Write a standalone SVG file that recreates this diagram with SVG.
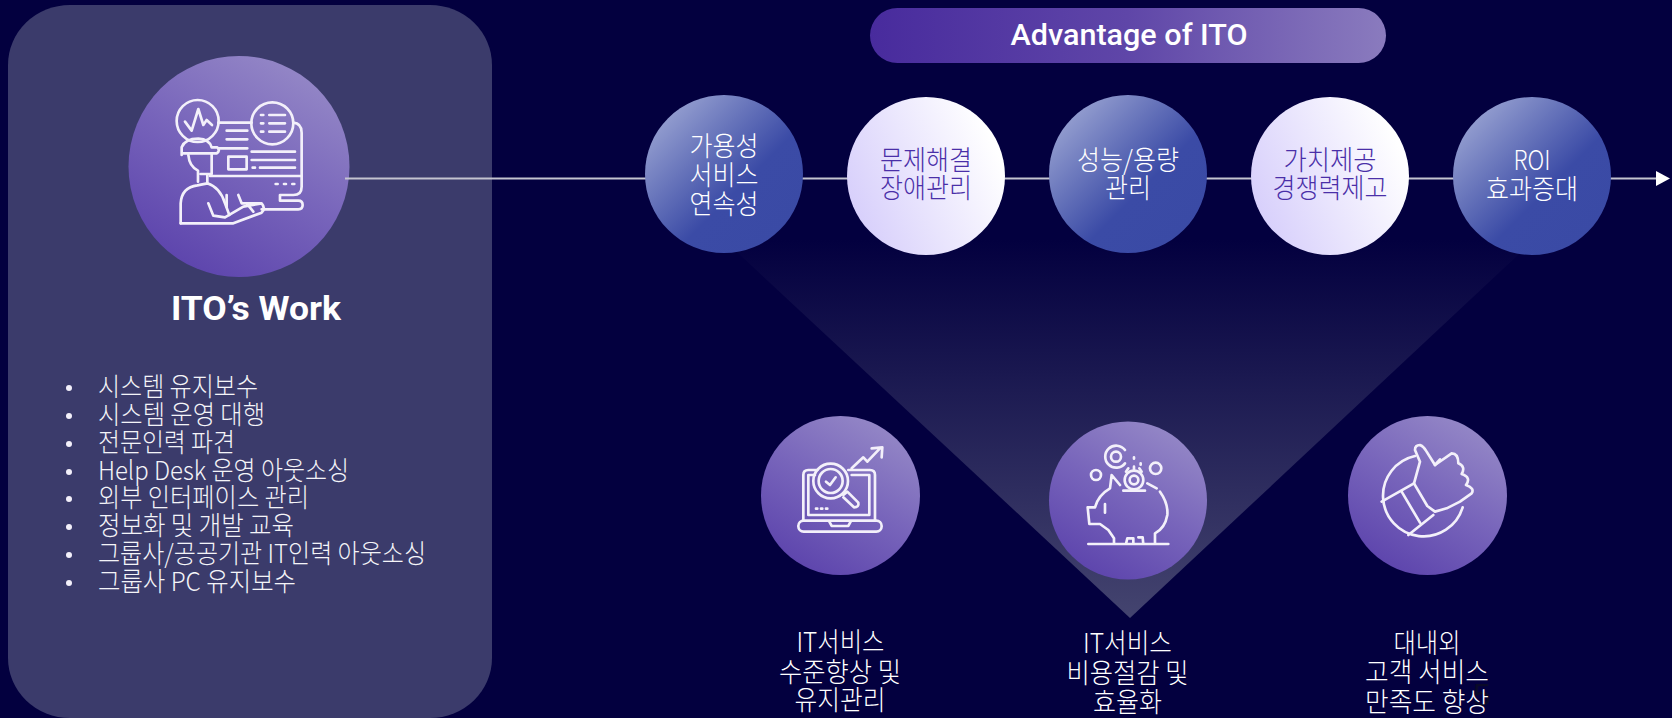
<svg xmlns="http://www.w3.org/2000/svg" width="1672" height="718" viewBox="0 0 1672 718">
<style>
.ko{font-family:"Noto Sans CJK KR","Noto Sans",sans-serif;font-weight:300;font-size:27px;fill:#fff;text-anchor:middle}
.li{text-anchor:start;fill:#f4f4f8;font-size:26px}
.pu{fill:#4a2fa8}
.ti{font-family:Roboto,"Liberation Sans",sans-serif;fill:#fff;text-anchor:middle}
.ic{fill:none;stroke:#f3f0fa;stroke-width:8;stroke-linecap:round;stroke-linejoin:round}
.dot{fill:#f3f0fa}
</style>
<defs>
<linearGradient id="gPur" x1="0.2" y1="1" x2="0.75" y2="0.05"><stop offset="0" stop-color="#5a41ab"/><stop offset="0.55" stop-color="#7865bb"/><stop offset="1" stop-color="#9386c6"/></linearGradient>
<linearGradient id="gBlu" x1="0.12" y1="0.12" x2="0.88" y2="0.88"><stop offset="0" stop-color="#959fd0"/><stop offset="0.62" stop-color="#3b4ba6"/><stop offset="1" stop-color="#3a4aa5"/></linearGradient>
<linearGradient id="gWht" x1="0" y1="0.9" x2="1" y2="0.45"><stop offset="0" stop-color="#d3cafb"/><stop offset="1" stop-color="#ffffff"/></linearGradient>
<linearGradient id="gPill" x1="0" y1="0" x2="1" y2="0"><stop offset="0" stop-color="#482b9d"/><stop offset="0.5" stop-color="#5f46a8"/><stop offset="1" stop-color="#8a7bbe"/></linearGradient>
<linearGradient id="gTri" x1="0" y1="0" x2="0" y2="1"><stop offset="0" stop-color="#03003f"/><stop offset="1" stop-color="#44446f"/></linearGradient>
<marker id="arr" markerUnits="userSpaceOnUse" markerWidth="16" markerHeight="18" refX="0" refY="8" orient="auto"><path d="M0,0.5 L14,8 L0,15.5 Z" fill="#fff"/></marker>
</defs>
<rect width="1672" height="718" fill="#03003f"/>
<g id="panel"><rect x="8" y="5" width="484" height="713" rx="62" ry="60" fill="#3b3b6b"/></g>
<polygon id="funnel" points="724,240 1534,240 1130,618" fill="url(#gTri)"/>

<g id="work-icon">
<circle cx="239" cy="166.5" r="110.5" fill="url(#gPur)"/>
<g transform="translate(110,40) scale(0.3333)" class="ic">
<circle cx="263" cy="243" r="63"/>
<path d="M225,245 L245,272 L265,207 L280,255 L290,240 L306,255"/>
<circle cx="487" cy="250" r="63"/>
<path d="M478,225H525M478,250H525M478,275H525M453,225H460M453,250H460M453,275H460"/>
<path d="M325,248H425M550,248Q575,250 575,278V440Q575,465 550,465H510V482H565Q578,482 578,495Q578,508 565,508H455"/>
<path d="M350,272H412M350,298H412M325,325H412M425,335H555M425,360H555M450,383H555M428,383H435M300,408H575"/>
<rect x="355" y="350" width="55" height="38"/>
<path d="M497,432H503M522,432H528M547,432H553"/>
<path d="M215,345V322Q225,296 265,296Q298,298 305,322H322Q332,332 320,340H215"/>
<path d="M235,345Q238,380 264,392V425M305,340V402H272M292,405V428"/>
<path d="M212,550V490Q215,442 262,436L292,430Q330,442 345,490L358,525"/>
<path d="M295,490L310,527L345,532L400,500L455,490Q468,505 455,518L370,550H212"/>
<path d="M350,465V500M385,465L395,490L450,490M410,490L430,515"/>
</g>
</g>
<g id="work-text">
<text class="ti" x="256" y="320" font-size="34" font-weight="700" textLength="170" lengthAdjust="spacingAndGlyphs">ITO’s Work</text>
<g class="dot"><circle cx="69" cy="388" r="3"/><circle cx="69" cy="416" r="3"/><circle cx="69" cy="444" r="3"/><circle cx="69" cy="472" r="3"/><circle cx="69" cy="499" r="3"/><circle cx="69" cy="527" r="3"/><circle cx="69" cy="555" r="3"/><circle cx="69" cy="583" r="3"/></g>
<text class="ko li" x="98" y="396" textLength="160" lengthAdjust="spacingAndGlyphs">시스템 유지보수</text>
<text class="ko li" x="98" y="424" textLength="167" lengthAdjust="spacingAndGlyphs">시스템 운영 대행</text>
<text class="ko li" x="98" y="452" textLength="137" lengthAdjust="spacingAndGlyphs">전문인력 파견</text>
<text class="ko li" x="98" y="480" textLength="251" lengthAdjust="spacingAndGlyphs">Help Desk 운영 아웃소싱</text>
<text class="ko li" x="98" y="507" textLength="211" lengthAdjust="spacingAndGlyphs">외부 인터페이스 관리</text>
<text class="ko li" x="98" y="535" textLength="196" lengthAdjust="spacingAndGlyphs">정보화 및 개발 교육</text>
<text class="ko li" x="98" y="563" textLength="328" lengthAdjust="spacingAndGlyphs">그룹사/공공기관 IT인력 아웃소싱</text>
<text class="ko li" x="98" y="591" textLength="198" lengthAdjust="spacingAndGlyphs">그룹사 PC 유지보수</text>
</g>

<g id="connectors"><line x1="345" y1="178.5" x2="1656" y2="178.5" stroke="#c4c4d0" stroke-width="2" marker-end="url(#arr)"/></g>

<g id="header"><rect x="870" y="8" width="516" height="55" rx="27.5" fill="url(#gPill)"/>
<text class="ti" x="1129" y="45" font-size="30" font-weight="500" textLength="237" lengthAdjust="spacingAndGlyphs">Advantage of ITO</text></g>

<g id="adv1"><circle cx="724" cy="174" r="79" fill="url(#gBlu)"/>
<text class="ko" x="724" y="156" textLength="69" lengthAdjust="spacingAndGlyphs">가용성</text>
<text class="ko" x="724" y="185" textLength="69" lengthAdjust="spacingAndGlyphs">서비스</text>
<text class="ko" x="724" y="214" textLength="69" lengthAdjust="spacingAndGlyphs">연속성</text></g>
<g id="adv2"><circle cx="926" cy="176" r="79" fill="url(#gWht)"/>
<text class="ko pu" x="926" y="170" textLength="92" lengthAdjust="spacingAndGlyphs">문제해결</text>
<text class="ko pu" x="926" y="198" textLength="92" lengthAdjust="spacingAndGlyphs">장애관리</text></g>
<g id="adv3"><circle cx="1128" cy="174" r="79" fill="url(#gBlu)"/>
<text class="ko" x="1128" y="170" textLength="102" lengthAdjust="spacingAndGlyphs">성능/용량</text>
<text class="ko" x="1128" y="198" textLength="46" lengthAdjust="spacingAndGlyphs">관리</text></g>
<g id="adv4"><circle cx="1330" cy="176" r="79" fill="url(#gWht)"/>
<text class="ko pu" x="1330" y="170" textLength="93" lengthAdjust="spacingAndGlyphs">가치제공</text>
<text class="ko pu" x="1330" y="198" textLength="115" lengthAdjust="spacingAndGlyphs">경쟁력제고</text></g>
<g id="adv5"><circle cx="1532" cy="176" r="79" fill="url(#gBlu)"/>
<text class="ko" x="1532" y="170" textLength="37" lengthAdjust="spacingAndGlyphs">ROI</text>
<text class="ko" x="1532" y="199" textLength="92" lengthAdjust="spacingAndGlyphs">효과증대</text></g>

<g id="ben1"><circle cx="840.5" cy="495.5" r="79.5" fill="url(#gPur)"/>
<g transform="translate(740,400) scale(0.3333)" class="ic">
<path d="M190,362V225Q190,210 205,210H232M325,210H390Q405,210 405,225V362"/>
<path d="M205,345V225H225M335,225H388V345H205"/>
<rect x="175" y="362" width="250" height="33" rx="16"/>
<path d="M268,365L275,378H325L332,365M228,326H232M243,326H247M258,326H262"/>
<circle cx="272" cy="243" r="36"/><circle cx="272" cy="243" r="52"/>
<path d="M258,245L270,255L287,232"/>
<path d="M310,285L322,275L355,308Q358,322 342,322L310,292"/>
<path d="M335,205L370,172L382,185L420,145M395,145L427,142L425,172"/>
</g>
<text class="ko" x="840.5" y="652" textLength="88" lengthAdjust="spacingAndGlyphs">IT서비스</text>
<text class="ko" x="840" y="682" textLength="122" lengthAdjust="spacingAndGlyphs">수준향상 및</text>
<text class="ko" x="840" y="710" textLength="91" lengthAdjust="spacingAndGlyphs">유지관리</text></g>

<g id="ben2"><circle cx="1128" cy="500.5" r="79" fill="url(#gPur)"/>
<g transform="translate(1040,400) scale(0.3333)" class="ic">
<path d="M255,150A33,33 0 1 0 255,190"/><circle cx="228" cy="170" r="15"/>
<circle cx="168" cy="225" r="15"/><circle cx="347" cy="205" r="17"/>
<circle cx="282" cy="240" r="28"/><circle cx="282" cy="240" r="13"/>
<path d="M282,172V176M302,190V194M282,200V208M258,215L265,205M305,215L298,205"/>
<path d="M145,432H385M222,415L205,390L180,372H148L143,322H165Q175,285 210,265L215,225L240,255M322,250L350,265M360,275Q385,310 382,345Q375,385 345,400V432M222,415V432M258,432L262,415H280V432M295,412H308L310,432M195,312V338M250,272H315"/>
</g>
<text class="ko" x="1127.5" y="653" textLength="89" lengthAdjust="spacingAndGlyphs">IT서비스</text>
<text class="ko" x="1127.5" y="683" textLength="122" lengthAdjust="spacingAndGlyphs">비용절감 및</text>
<text class="ko" x="1127.5" y="712" textLength="69" lengthAdjust="spacingAndGlyphs">효율화</text></g>

<g id="ben3"><circle cx="1427.5" cy="495.5" r="79.5" fill="url(#gPur)"/>
<g transform="translate(1340,400) scale(0.3333)" class="ic">
<path d="M225,168A122,122 0 1 0 368,322"/>
<path d="M225,150Q225,135 240,135Q250,138 258,152L285,195L335,160Q355,160 355,190Q378,200 365,222Q395,232 378,255Q405,265 395,280L360,305L320,325L285,335L262,318L222,250L240,185Z"/>
<path d="M285,195L300,178M125,305L222,250M205,405L280,345M185,275L240,368"/>
</g>
<text x="1482" y="706" font-family="Liberation Sans, sans-serif" font-size="32" text-anchor="middle" fill="#0a0a28">5</text>
<text class="ko" x="1427" y="653" textLength="67" lengthAdjust="spacingAndGlyphs">대내외</text>
<text class="ko" x="1427" y="682" textLength="124" lengthAdjust="spacingAndGlyphs">고객 서비스</text>
<text class="ko" x="1427" y="712" textLength="124" lengthAdjust="spacingAndGlyphs">만족도 향상</text></g>
</svg>
